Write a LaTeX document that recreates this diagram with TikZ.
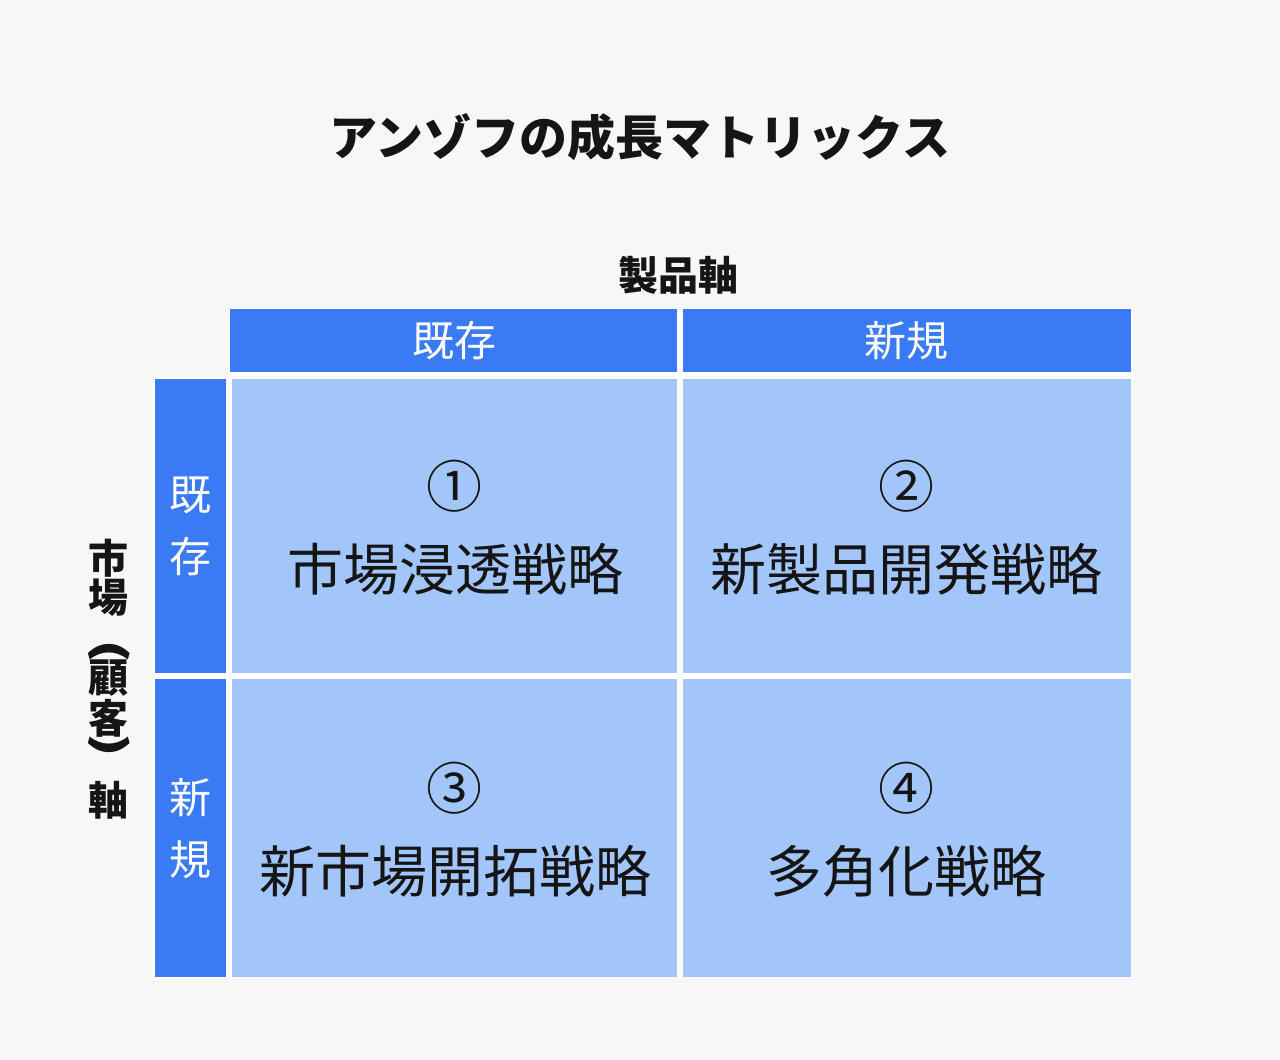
\documentclass[tikz,border=0pt]{standalone}
\usepackage{fontspec}
\usepackage{graphicx}
\newfontfamily\jp{Noto Sans CJK JP}
\definecolor{bgc}{HTML}{F7F7F7}
\definecolor{hdrc}{HTML}{3A7AF5}
\definecolor{cellc}{HTML}{A3C6FA}
\definecolor{inkc}{HTML}{151515}
\tikzset{
  hdrbox/.style={fill=hdrc, draw=none, inner sep=0pt},
  cellbox/.style={fill=cellc, draw=none, inner sep=0pt},
  hdrtext/.style={text=white, font=\jp\fontsize{42}{42}\selectfont, inner sep=0pt},
  celltext/.style={text=inkc, font=\jp\fontsize{56}{56}\selectfont, inner sep=0pt},
  axistext/.style={text=inkc, font=\jp\bfseries\fontsize{40}{40}\selectfont, inner sep=0pt},
  titletext/.style={text=inkc, font=\jp\bfseries\fontsize{48}{48}\selectfont, inner sep=0pt}
}
\begin{document}
\begin{tikzpicture}[x=1pt,y=-1pt]
\fill[bgc] (0,0) rectangle (1280,1060);
\useasboundingbox (0,0) rectangle (1280,1060);
% white spacing behind the table
\fill[white] (228.5,307.5) rectangle (1132.5,979);
\fill[white] (153.5,377) rectangle (230,979);
% top headers
\node[hdrbox, minimum width=447pt, minimum height=63pt] (hA) at (453.5,340.5) {};
\node[hdrbox, minimum width=448pt, minimum height=63pt] (hB) at (907,340.5) {};
% left headers
\node[hdrbox, minimum width=71pt, minimum height=294pt] (vA) at (190.5,526) {};
\node[hdrbox, minimum width=71pt, minimum height=298pt] (vB) at (190.5,828) {};
% cells
\node[cellbox, minimum width=445pt, minimum height=294pt] (c11) at (454.5,526) {};
\node[cellbox, minimum width=448pt, minimum height=294pt] (c12) at (907,526) {};
\node[cellbox, minimum width=445pt, minimum height=298pt] (c21) at (454.5,828) {};
\node[cellbox, minimum width=448pt, minimum height=298pt] (c22) at (907,828) {};
% title and axis labels
\node[titletext] (title) at (640,137) {アンゾフの成長マトリックス};
\node[axistext] (prodaxis) at (678,275) {製品軸};
\node[axistext] (m1) at (108,558) {市};
\node[axistext] (m2) at (108,598) {場};
\node[axistext, rotate=-90] (m3) at (109,651) {\scalebox{1.5}[1]{(}};
\node[axistext] (m4) at (108,678) {顧};
\node[axistext] (m5) at (108,718) {客};
\node[axistext, rotate=-90] (m6) at (109,745) {\scalebox{1.5}[1]{)}};
\node[axistext] (m7) at (108,800) {軸};
% header texts
\node[hdrtext] (tA) at (454,341) {既存};
\node[hdrtext] (tB) at (906,341) {新規};
\node[hdrtext] (vA1) at (190,495) {既};
\node[hdrtext] (vA2) at (190,557) {存};
\node[hdrtext] (vB1) at (190,798) {新};
\node[hdrtext] (vB2) at (190,860) {規};
% cell texts
\node[celltext] (n1) at (454,486) {①};
\node[celltext] (s1) at (455,569) {市場浸透戦略};
\node[celltext] (n2) at (906,486) {②};
\node[celltext] (s2) at (906,569) {新製品開発戦略};
\node[celltext] (n3) at (454,788) {③};
\node[celltext] (s3) at (455,871) {新市場開拓戦略};
\node[celltext] (n4) at (906,788) {④};
\node[celltext] (s4) at (906,871) {多角化戦略};
\end{tikzpicture}
\end{document}
